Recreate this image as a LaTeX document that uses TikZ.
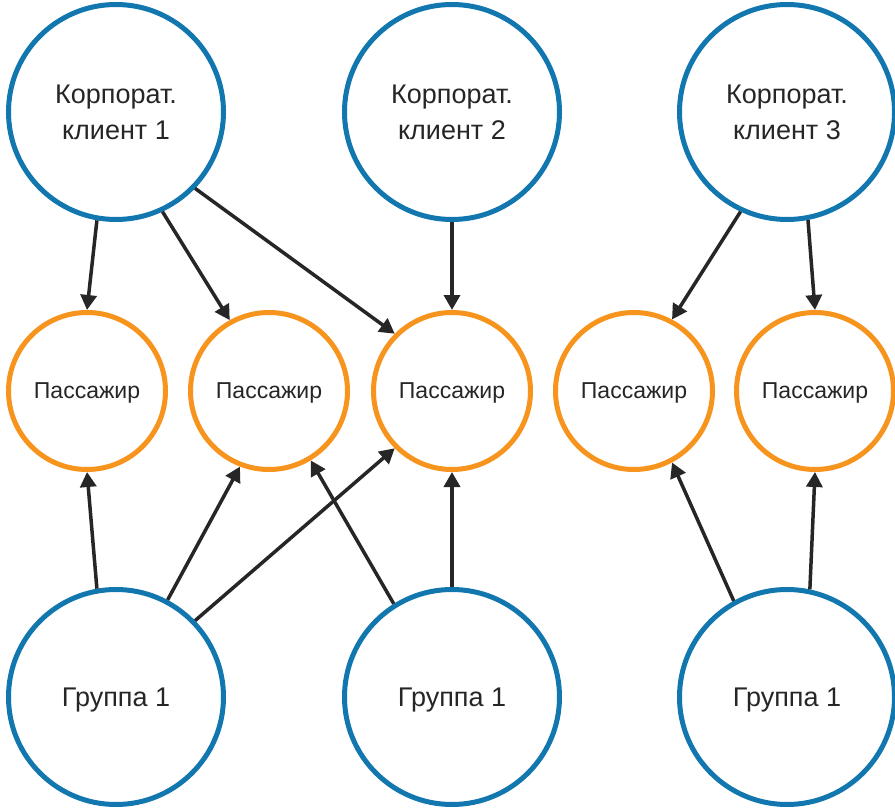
\documentclass[tikz,border=0pt]{standalone}
\usepackage{fontspec}
\setmainfont{Liberation Sans}
\usetikzlibrary{arrows.meta}
\definecolor{cblue}{HTML}{1276AF}
\definecolor{corange}{HTML}{F7941E}
\definecolor{ctext}{HTML}{262626}
\newcommand{\twolines}[2]{\raisebox{-3pt}[\height][\depth]{\begin{tabular}{@{}c@{}}#1\\[2pt]#2\end{tabular}}}
\tikzset{
  bluecirc/.style={circle, draw=cblue, line width=5pt, minimum size=215pt, inner sep=0pt,
    text=ctext, font=\fontsize{27}{32}\selectfont, text depth=0pt},
  clientcirc/.style={circle, draw=cblue, line width=5pt, minimum size=215pt, inner sep=0pt,
    text=ctext, font=\fontsize{27}{34}\selectfont},
  orangecirc/.style={circle, draw=corange, line width=5pt, minimum size=157pt, inner sep=0pt,
    text=ctext, font=\fontsize{23}{28}\selectfont, text depth=0pt},
  conn/.style={draw=ctext, line width=3.5pt, -{Triangle[length=15pt,width=16pt]}}
}
\begin{document}
\begin{tikzpicture}[x=1pt,y=-1pt]
\useasboundingbox (0,0) rectangle (895,808);
% top corporate clients
\node[clientcirc] (k1) at (116,112) {\twolines{Корпорат.}{клиент 1}};
\node[clientcirc] (k2) at (452,112) {\twolines{Корпорат.}{клиент 2}};
\node[clientcirc] (k3) at (787,112) {\twolines{Корпорат.}{клиент 3}};
% passengers
\node[orangecirc] (p1) at (87,391) {Пассажир};
\node[orangecirc] (p2) at (269,391) {Пассажир};
\node[orangecirc] (p3) at (452,391) {Пассажир};
\node[orangecirc] (p4) at (634,391) {Пассажир};
\node[orangecirc] (p5) at (815,391) {Пассажир};
% groups
\node[bluecirc] (g1) at (116,697) {Группа 1};
\node[bluecirc] (g2) at (452,697) {Группа 1};
\node[bluecirc] (g3) at (787,697) {Группа 1};
% connectors from clients
\draw[conn] (k1.-100) -- (p1.90);
\draw[conn] (k1.-65) -- (p2.119);
\draw[conn] (k1.-44) -- (p3.135);
\draw[conn] (k2.-90) -- (p3.90);
\draw[conn] (k3.-115) -- (p4.62);
\draw[conn] (k3.-79) -- (p5.90);
% connectors from groups
\draw[conn] (g1.100) -- (p1.-90);
\draw[conn] (g1.62) -- (p2.-111);
\draw[conn] (g1.44) -- (p3.-135);
\draw[conn] (g2.122) -- (p2.-59);
\draw[conn] (g2.90) -- (p3.-90);
\draw[conn] (g3.119) -- (p4.-62);
\draw[conn] (g3.78) -- (p5.-90);
\end{tikzpicture}
\end{document}
